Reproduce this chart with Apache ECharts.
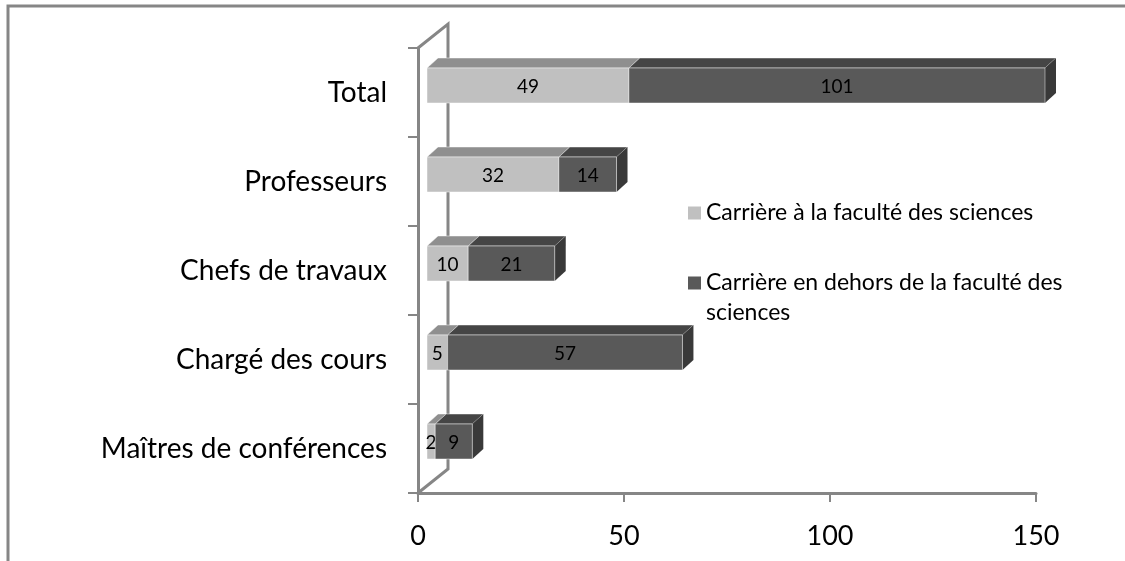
<!DOCTYPE html>
<html><head><meta charset="utf-8">
<script src="https://cdn.jsdelivr.net/npm/echarts@6/dist/echarts.min.js"></script>
<style>html,body{margin:0;padding:0;background:#fff}#c{width:1125px;height:561px}</style>
</head><body><div id="c"></div>
<script>
// ---- data ----
const categories = ['Maîtres de conférences', 'Chargé des cours', 'Chefs de travaux', 'Professeurs', 'Total'];
const seriesNames = ['Carrière à la faculté des sciences', 'Carrière en dehors de la faculté des sciences'];
const insideValues = [2, 5, 10, 32, 49];
const outsideValues = [9, 57, 21, 14, 101];
const xTicks = [0, 50, 100, 150];

// ---- style ----
const FONT = 'Lato';
const AXIS_COLOR = '#868686';
const DEPTH = [11, -10];
const BAR_SHIFT = [9, -7];
const BAR_H = 35;
const WALL = [30, -24];
const GRID = { left: 418, right: 89, top: 48, bottom: 68 };
const COLORS = [
  { front: '#c0c0c0', top: '#8f8f8f', side: '#7a7a7a' },
  { front: '#595959', top: '#454545', side: '#393939' }
];

function makeRenderer(c) {
  return function (params, api) {
    const cat = api.value(0), start = api.value(1), end = api.value(2), val = api.value(3);
    const p0 = api.coord([start, cat]);
    const p1 = api.coord([end, cat]);
    const x0 = p0[0] + BAR_SHIFT[0], x1 = p1[0] + BAR_SHIFT[0];
    const cy = p0[1] + BAR_SHIFT[1];
    const yT = cy - BAR_H / 2, yB = cy + BAR_H / 2;
    const dx = DEPTH[0], dy = DEPTH[1];
    return {
      type: 'group',
      children: [
        { type: 'polygon', shape: { points: [[x0, yT], [x1, yT], [x1 + dx, yT + dy], [x0 + dx, yT + dy]] },
          style: { fill: c.top, stroke: 'rgba(255,255,255,0.45)', lineWidth: 1 } },
        { type: 'polygon', shape: { points: [[x1, yT], [x1 + dx, yT + dy], [x1 + dx, yB + dy], [x1, yB]] },
          style: { fill: c.side } },
        { type: 'rect', shape: { x: x0, y: yT, width: x1 - x0, height: BAR_H },
          style: { fill: c.front, stroke: 'rgba(255,255,255,0.45)', lineWidth: 1 } },
        { type: 'text', x: (x0 + x1) / 2, y: cy + 1,
          style: { text: String(val), align: 'center', verticalAlign: 'middle',
                   fontFamily: FONT, fontSize: 19, fill: '#000' } }
      ]
    };
  };
}

const insideData = categories.map((c, i) => [i, 0, insideValues[i], insideValues[i]]);
const outsideData = categories.map((c, i) => [i, insideValues[i], insideValues[i] + outsideValues[i], outsideValues[i]]);

const legendBase = {
  orient: 'vertical', left: 688, padding: 0, icon: 'rect', itemWidth: 13, itemHeight: 13,
  selectedMode: false, itemGap: 0
};
const LH = 30;
const LFS = 23;

const chart = echarts.init(document.getElementById('c'));
chart.setOption({
  animation: false,
  backgroundColor: '#fff',
  grid: Object.assign({ outerBoundsMode: 'none', containLabel: false }, GRID),
  xAxis: {
    type: 'value', min: xTicks[0], max: xTicks[xTicks.length - 1], interval: xTicks[1] - xTicks[0],
    axisLine: { show: true, lineStyle: { color: AXIS_COLOR, width: 3 } },
    axisTick: { show: true, length: 9, lineStyle: { color: AXIS_COLOR, width: 2 } },
    splitLine: { show: false },
    axisLabel: { color: '#000', fontFamily: FONT, fontSize: 27, margin: 30 }
  },
  yAxis: {
    type: 'category', data: categories,
    axisLine: { show: true, lineStyle: { color: AXIS_COLOR, width: 3 } },
    axisTick: { show: true, length: 10, lineStyle: { color: AXIS_COLOR, width: 2 } },
    axisLabel: { color: '#000', fontFamily: FONT, fontSize: 28, margin: 31 },
    splitLine: { show: false }
  },
  legend: [
    Object.assign({}, legendBase, {
      data: [seriesNames[0]], top: 213 - LH / 2,
      textStyle: { color: '#000', fontFamily: FONT, fontSize: LFS, lineHeight: LH }
    }),
    Object.assign({}, legendBase, {
      data: [seriesNames[1]], top: 283 - LH * 1.5,
      formatter: n => '\n' + n.replace(/ (\S+)$/, '\n$1'),
      textStyle: { color: '#000', fontFamily: FONT, fontSize: LFS, lineHeight: LH }
    })
  ],
  series: [
    { name: seriesNames[0], type: 'custom', renderItem: makeRenderer(COLORS[0]), data: insideData,
      encode: { x: [1, 2], y: 0 }, itemStyle: { color: COLORS[0].front }, z: 3 },
    { name: seriesNames[1], type: 'custom', renderItem: makeRenderer(COLORS[1]), data: outsideData,
      encode: { x: [1, 2], y: 0 }, itemStyle: { color: COLORS[1].front }, z: 3 }
  ]
});

// 3D wall lines derived from the grid
const W = chart.getWidth(), H = chart.getHeight();
const fx = GRID.left, fTop = GRID.top, fBot = H - GRID.bottom;
const ls = { stroke: AXIS_COLOR, lineWidth: 3, fill: null };
chart.setOption({
  graphic: [
    { type: 'rect', shape: { x: 8, y: 6, width: W + 20, height: H + 20 }, style: { stroke: AXIS_COLOR, lineWidth: 3, fill: null }, z: 0 },
    { type: 'polyline', shape: { points: [[fx, fTop], [fx + WALL[0], fTop + WALL[1]], [fx + WALL[0], fBot + WALL[1]], [fx, fBot]] },
      style: ls, z: 1 }
  ]
});
</script></body></html>
